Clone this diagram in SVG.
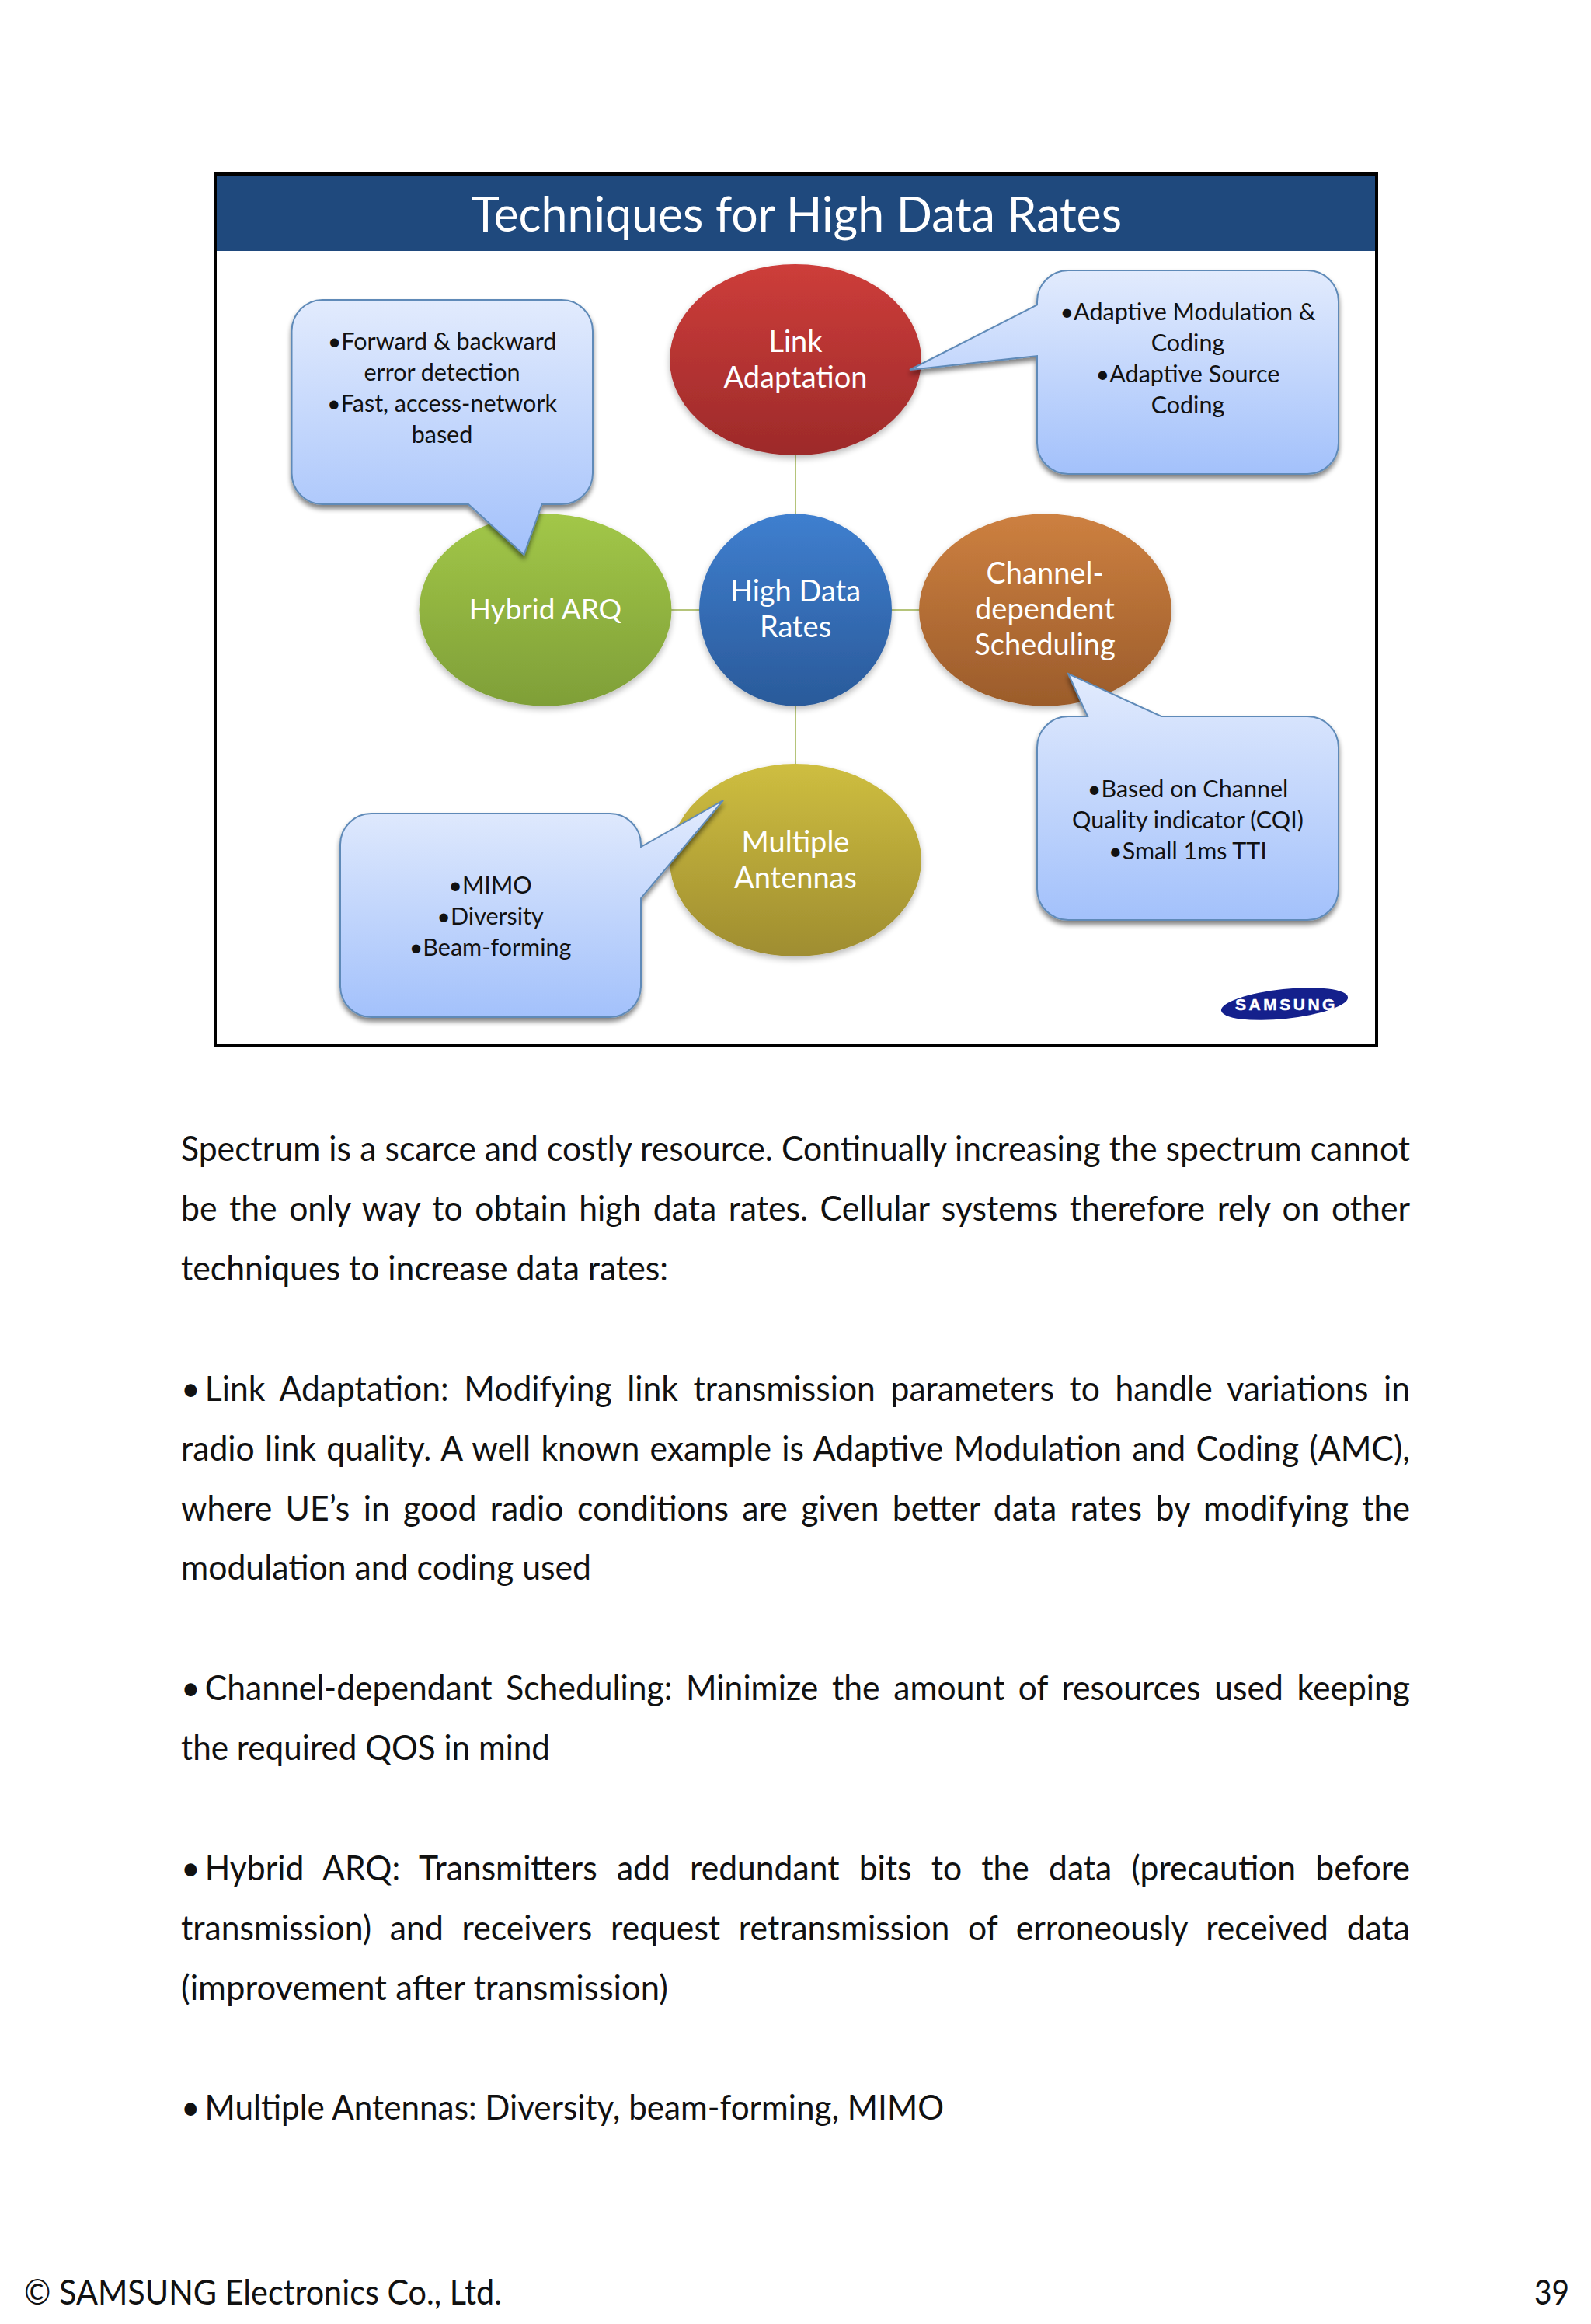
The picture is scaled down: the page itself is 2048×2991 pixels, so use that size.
<svg xmlns="http://www.w3.org/2000/svg" width="2048" height="2991" viewBox="0 0 2048 2991">
<defs>
<linearGradient id="gb" x1="0" y1="0" x2="0" y2="1"><stop offset="0" stop-color="#e2ebfd"/><stop offset="1" stop-color="#a3c1fb"/></linearGradient>
<linearGradient id="gr" x1="0" y1="0" x2="0" y2="1"><stop offset="0" stop-color="#cd3d3a"/><stop offset="1" stop-color="#9d2a2a"/></linearGradient>
<linearGradient id="gg" x1="0" y1="0" x2="0" y2="1"><stop offset="0" stop-color="#a2c748"/><stop offset="1" stop-color="#7f9f38"/></linearGradient>
<linearGradient id="gu" x1="0" y1="0" x2="0" y2="1"><stop offset="0" stop-color="#3f7fcf"/><stop offset="1" stop-color="#2a5a9a"/></linearGradient>
<linearGradient id="go" x1="0" y1="0" x2="0" y2="1"><stop offset="0" stop-color="#cd8040"/><stop offset="1" stop-color="#9b5c2b"/></linearGradient>
<linearGradient id="gy" x1="0" y1="0" x2="0" y2="1"><stop offset="0" stop-color="#cebe40"/><stop offset="1" stop-color="#9f8d30"/></linearGradient>
<filter id="sh" x="-10%" y="-10%" width="120%" height="125%"><feGaussianBlur in="SourceAlpha" stdDeviation="3"/><feOffset dy="5"/><feComponentTransfer><feFuncA type="linear" slope="0.5"/></feComponentTransfer><feMerge><feMergeNode/><feMergeNode in="SourceGraphic"/></feMerge></filter>
<filter id="sn" x="-10%" y="-10%" width="120%" height="125%"><feGaussianBlur in="SourceAlpha" stdDeviation="4"/><feOffset dy="4"/><feComponentTransfer><feFuncA type="linear" slope="0.28"/></feComponentTransfer><feMerge><feMergeNode/><feMergeNode in="SourceGraphic"/></feMerge></filter>
</defs>
<style>
text{font-family:"Lato","Liberation Sans",sans-serif}
.b{font-size:44px;fill:#111}
.n{font-size:38px;fill:#fff;text-anchor:middle}
.c{font-size:30.500px;fill:#111;text-anchor:middle}
.bub{fill:url(#gb);stroke:#5f8ab8;stroke-width:2;filter:url(#sh)}
.node{filter:url(#sn)}
</style>
<rect width="2048" height="2991" fill="#fff"/>
<g id="frame">
<rect x="277" y="224" width="1495" height="1122" fill="#fff" stroke="#000" stroke-width="4"/>
<rect x="279" y="226" width="1491" height="97" fill="#1f497d"/>
<text x="607" y="298" font-size="62" fill="#fff" textLength="837" lengthAdjust="spacingAndGlyphs">Techniques for High Data Rates</text>
</g>
<g id="connectors" stroke="#b5c47a" stroke-width="2" fill="none">
<path d="M1024 586V661M864 785H901M1147 785H1183M1024 908V983"/>
</g>
<g id="link"><ellipse class="node" cx="1024" cy="463" rx="162" ry="123" fill="url(#gr)"/><text class="n" x="1024" y="453">Link</text><text class="n" x="1024" y="499">Adaptation</text></g>
<g id="hybrid"><ellipse class="node" cx="702" cy="785" rx="162.500" ry="123.500" fill="url(#gg)"/><text class="n" x="702" y="797" style="font-size:37px">Hybrid ARQ</text></g>
<g id="high"><ellipse class="node" cx="1024" cy="785" rx="124" ry="123.500" fill="url(#gu)"/><text class="n" x="1024" y="774">High Data</text><text class="n" x="1024" y="820">Rates</text></g>
<g id="channel"><ellipse class="node" cx="1345.500" cy="785" rx="162.500" ry="123.500" fill="url(#go)"/><text class="n" x="1345" y="751">Channel-</text><text class="n" x="1345" y="797">dependent</text><text class="n" x="1345" y="843">Scheduling</text></g>
<g id="multiple"><ellipse class="node" cx="1024" cy="1107" rx="162" ry="124" fill="url(#gy)"/><text class="n" x="1024" y="1097">Multiple</text><text class="n" x="1024" y="1143">Antennas</text></g>
<g id="callout-harq"><path class="bub" d="M415 386H723A40 40 0 0 1 763 426V609A40 40 0 0 1 723 649H697.500L674.500 714L603 649H415A40 40 0 0 1 375.500 609V426A40 40 0 0 1 415 386Z"/><text class="c" x="569" y="450">•Forward &amp; backward</text><text class="c" x="569" y="490">error detection</text><text class="c" x="569" y="530">•Fast, access-network</text><text class="c" x="569" y="570">based</text></g>
<g id="callout-link"><path class="bub" d="M1375 348H1683A40 40 0 0 1 1723 388V570A40 40 0 0 1 1683 610H1375A40 40 0 0 1 1335 570V458L1171 476L1335 392.500V388A40 40 0 0 1 1375 348Z"/><text class="c" x="1529" y="412">•Adaptive Modulation &amp;</text><text class="c" x="1529" y="452">Coding</text><text class="c" x="1529" y="492">•Adaptive Source</text><text class="c" x="1529" y="532">Coding</text></g>
<g id="callout-channel"><path class="bub" d="M1375 922H1400L1375 867L1495 922H1683A40 40 0 0 1 1723 962V1144A40 40 0 0 1 1683 1184H1375A40 40 0 0 1 1335 1144V962A40 40 0 0 1 1375 922Z"/><text class="c" x="1529" y="1026">•Based on Channel</text><text class="c" x="1529" y="1066">Quality indicator (CQI)</text><text class="c" x="1529" y="1106">•Small 1ms TTI</text></g>
<g id="callout-mimo"><path class="bub" d="M478 1047H785A40 40 0 0 1 825 1087V1090L931 1030L825 1156V1269A40 40 0 0 1 785 1309H478A40 40 0 0 1 438 1269V1087A40 40 0 0 1 478 1047Z"/><text class="c" x="631" y="1150">•MIMO</text><text class="c" x="631" y="1190">•Diversity</text><text class="c" x="631" y="1230">•Beam-forming</text></g>
<g id="logo"><ellipse cx="1653.500" cy="1292" rx="82" ry="19" transform="rotate(-6 1653.500 1292)" fill="#14208c"/><text x="1656" y="1300" font-size="21" font-weight="700" fill="#fff" stroke="#fff" stroke-width="0.500" text-anchor="middle" letter-spacing="3.500" style="font-family:'Liberation Sans',sans-serif">SAMSUNG</text></g>
<g id="body">
<text class="b" x="233" y="1494" textLength="1582" lengthAdjust="spacingAndGlyphs" word-spacing="0.2">Spectrum is a scarce and costly resource. Continually increasing the spectrum cannot</text>
<text class="b" x="233" y="1571" textLength="1582" lengthAdjust="spacingAndGlyphs" word-spacing="4.7">be the only way to obtain high data rates. Cellular systems therefore rely on other</text>
<text class="b" x="233" y="1648" textLength="627" lengthAdjust="spacingAndGlyphs">techniques to increase data rates:</text>
<text class="b" x="233" y="1803" textLength="1582" lengthAdjust="spacingAndGlyphs" word-spacing="9"><tspan word-spacing="-5">• </tspan>Link Adaptation: Modifying link transmission parameters to handle variations in</text>
<text class="b" x="233" y="1880" textLength="1582" lengthAdjust="spacingAndGlyphs" word-spacing="2.4">radio link quality. A well known example is Adaptive Modulation and Coding (AMC),</text>
<text class="b" x="233" y="1957" textLength="1582" lengthAdjust="spacingAndGlyphs" word-spacing="6.6">where UE’s in good radio conditions are given better data rates by modifying the</text>
<text class="b" x="233" y="2033" textLength="528" lengthAdjust="spacingAndGlyphs">modulation and coding used</text>
<text class="b" x="233" y="2188" textLength="1582" lengthAdjust="spacingAndGlyphs" word-spacing="7"><tspan word-spacing="-5">• </tspan>Channel-dependant Scheduling: Minimize the amount of resources used keeping</text>
<text class="b" x="233" y="2265" textLength="475" lengthAdjust="spacingAndGlyphs">the required QOS in mind</text>
<text class="b" x="233" y="2420" textLength="1582" lengthAdjust="spacingAndGlyphs" word-spacing="14.8"><tspan word-spacing="-5">• </tspan>Hybrid ARQ: Transmitters add redundant bits to the data (precaution before</text>
<text class="b" x="233" y="2497" textLength="1582" lengthAdjust="spacingAndGlyphs" word-spacing="13.2">transmission) and receivers request retransmission of erroneously received data</text>
<text class="b" x="233" y="2574" textLength="627" lengthAdjust="spacingAndGlyphs">(improvement after transmission)</text>
<text class="b" x="233" y="2728" textLength="982" lengthAdjust="spacingAndGlyphs"><tspan word-spacing="-5">• </tspan>Multiple Antennas: Diversity, beam-forming, MIMO</text>
</g>
<g id="footer">
<text class="b" x="31" y="2966" textLength="615" lengthAdjust="spacingAndGlyphs">© SAMSUNG Electronics Co., Ltd.</text>
<text class="b" x="1975" y="2966" textLength="45" lengthAdjust="spacingAndGlyphs">39</text>
</g>
</svg>
